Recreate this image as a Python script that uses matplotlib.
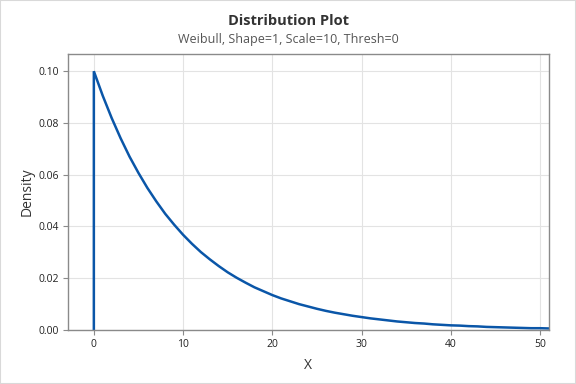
import matplotlib.pyplot as plt
from matplotlib.patches import Rectangle

# density values, x = 0..51
x_vals = list(range(0, 52))
density = [0.1000, 0.0905, 0.0819, 0.0741, 0.0670, 0.0607, 0.0549, 0.0497, 0.0449, 0.0407,
           0.0368, 0.0333, 0.0301, 0.0273, 0.0247, 0.0223, 0.0202, 0.0183, 0.0165, 0.0150,
           0.0135, 0.0122, 0.0111, 0.0100, 0.0091, 0.0082, 0.0074, 0.0067, 0.0061, 0.0055,
           0.0050, 0.0045, 0.0041, 0.0037, 0.0033, 0.0030, 0.0027, 0.0025, 0.0022, 0.0020,
           0.0018, 0.0017, 0.0015, 0.0014, 0.0012, 0.0011, 0.0010, 0.0009, 0.0008, 0.0007,
           0.0007, 0.0006]
x_ticks = [0, 10, 20, 30, 40, 50]
y_ticks = [0.00, 0.02, 0.04, 0.06, 0.08, 0.10]

plt.rcParams['font.family'] = ['Open Sans', 'DejaVu Sans']

fig = plt.figure(figsize=(5.76, 3.84), dpi=100)
ax = fig.add_axes([0.118, 0.1406, 0.835, 0.7184])

# vertical drop at x=0 followed by the curve
ax.plot([x_vals[0]] + x_vals, [0] + density, color='#0a56a8', lw=1.8, solid_joinstyle='miter')

ax.set_xlim(-2.9, 51.0)
ax.set_ylim(0, 0.1066)
ax.set_xticks(x_ticks)
ax.set_yticks(y_ticks)
ax.set_yticklabels([f'{v:.2f}' for v in y_ticks])
ax.grid(True, color='#e3e3e3', lw=0.8)
ax.set_axisbelow(True)
for s in ax.spines.values():
    s.set_color('#8a8a8a')
    s.set_linewidth(1)
ax.tick_params(colors='#8a8a8a', labelcolor='#222222', labelsize=7.5, length=3.5, width=0.8, pad=3)

ax.set_xlabel('X', fontsize=10, color='#333333', labelpad=6)
ax.set_ylabel('Density', fontsize=10, color='#333333', labelpad=3)

fig.text(0.5, 0.945, 'Distribution Plot', ha='center', va='center',
         fontsize=10.5, fontweight='bold', color='#333333')
fig.text(0.5, 0.898, 'Weibull, Shape=1, Scale=10, Thresh=0', ha='center', va='center',
         fontsize=9, color='#555555')

fig.patches.append(Rectangle((0, 0), 1, 1, transform=fig.transFigure, fill=False,
                             edgecolor='#d9d9d9', lw=1.5))

fig.savefig('out.png', dpi=100)
